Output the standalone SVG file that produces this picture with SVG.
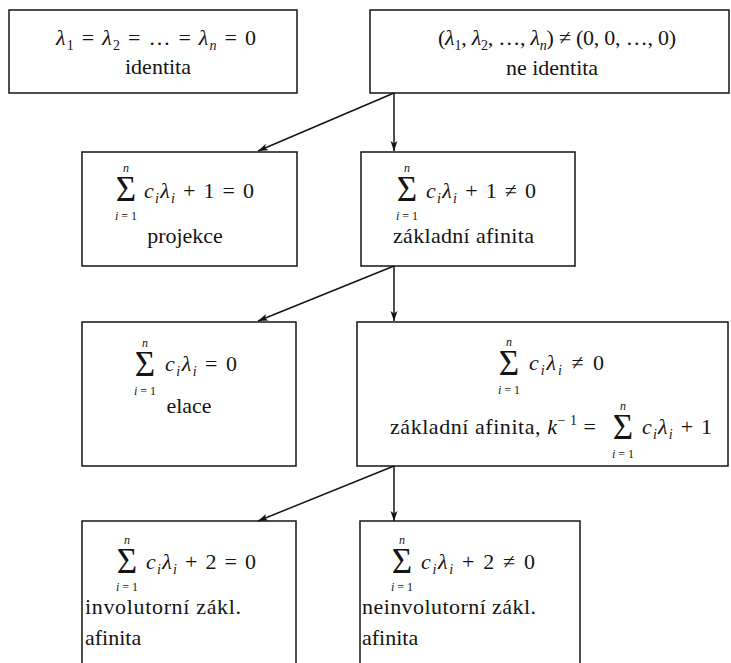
<svg xmlns="http://www.w3.org/2000/svg" width="731" height="663" viewBox="0 0 731 663">
<style>
.b{fill:none;stroke:#141414;stroke-width:1.5}
.c{fill:none;stroke:#141414;stroke-width:1.5}
text{font-family:"Liberation Serif","Times New Roman",serif;font-size:22px;fill:#141414}
.i{font-style:italic}
.s{font-size:14px}
.sg{font-size:35px;text-anchor:middle}
.lim{font-size:12px;text-anchor:middle}
.m{text-anchor:middle}
</style>
<defs>
<marker id="ah" markerUnits="userSpaceOnUse" markerWidth="11" markerHeight="8" refX="10" refY="4" orient="auto">
<path d="M0,0.5 L10,4 L0,7.5 L2.5,4 z" fill="#141414"/>
</marker>
</defs>
<rect width="731" height="663" fill="#fff"/>

<g id="connectors">
<line class="c" x1="394" y1="93" x2="258" y2="151" marker-end="url(#ah)"/>
<line class="c" x1="394" y1="93" x2="394" y2="151" marker-end="url(#ah)"/>
<line class="c" x1="394" y1="266" x2="258" y2="321" marker-end="url(#ah)"/>
<line class="c" x1="394" y1="266" x2="394" y2="321" marker-end="url(#ah)"/>
<line class="c" x1="394" y1="466" x2="258" y2="521" marker-end="url(#ah)"/>
<line class="c" x1="394" y1="466" x2="394" y2="521" marker-end="url(#ah)"/>
</g>

<g id="n1">
<rect class="b" x="9" y="10" width="288" height="83"/>
<text class="m" x="156" y="45" textLength="200"><tspan class="i">λ</tspan><tspan class="s" dy="5">1</tspan><tspan dy="-5"> = </tspan><tspan class="i">λ</tspan><tspan class="s" dy="5">2</tspan><tspan dy="-5"> = … = </tspan><tspan class="i">λ</tspan><tspan class="s i" dy="5">n</tspan><tspan dy="-5"> = 0</tspan></text>
<text class="m" x="158" y="74">identita</text>
</g>

<g id="n2">
<rect class="b" x="370" y="10" width="359" height="83"/>
<text class="m" x="557" y="45" textLength="238">(<tspan class="i">λ</tspan><tspan class="s" dy="5">1</tspan><tspan dy="-5">, </tspan><tspan class="i">λ</tspan><tspan class="s" dy="5">2</tspan><tspan dy="-5">, …, </tspan><tspan class="i">λ</tspan><tspan class="s i" dy="5">n</tspan><tspan dy="-5">) ≠ (0, 0, …, 0)</tspan></text>
<text class="m" x="552" y="75">ne identita</text>
</g>

<g id="n3">
<rect class="b" x="82" y="152" width="215" height="114"/>
<text class="sg" x="126" y="201">Σ</text>
<text class="lim i" x="126" y="172">n</text>
<text class="lim" x="126" y="220"><tspan class="i">i</tspan> = 1</text>
<text x="144" y="198" textLength="110"><tspan class="i">c</tspan><tspan class="s i" dy="5">i</tspan><tspan class="i" dy="-5">λ</tspan><tspan class="s i" dy="5">i</tspan><tspan dy="-5"> + 1 = 0</tspan></text>
<text class="m" x="185" y="243">projekce</text>
</g>

<g id="n4">
<rect class="b" x="361" y="152" width="214" height="114"/>
<text class="sg" x="407" y="201">Σ</text>
<text class="lim i" x="407" y="172">n</text>
<text class="lim" x="407" y="220"><tspan class="i">i</tspan> = 1</text>
<text x="426" y="198" textLength="110"><tspan class="i">c</tspan><tspan class="s i" dy="5">i</tspan><tspan class="i" dy="-5">λ</tspan><tspan class="s i" dy="5">i</tspan><tspan dy="-5"> + 1 ≠ 0</tspan></text>
<text x="393" y="243" textLength="141">základní afinita</text>
</g>

<g id="n5">
<rect class="b" x="82" y="322" width="214" height="144"/>
<text class="sg" x="145" y="376">Σ</text>
<text class="lim i" x="145" y="347">n</text>
<text class="lim" x="145" y="395"><tspan class="i">i</tspan> = 1</text>
<text x="165" y="371" textLength="72"><tspan class="i">c</tspan><tspan class="s i" dy="5">i</tspan><tspan class="i" dy="-5">λ</tspan><tspan class="s i" dy="5">i</tspan><tspan dy="-5"> = 0</tspan></text>
<text class="m" x="189" y="413">elace</text>
</g>

<g id="n6">
<rect class="b" x="357" y="322" width="371" height="144"/>
<text class="sg" x="509" y="375">Σ</text>
<text class="lim i" x="509" y="346">n</text>
<text class="lim" x="509" y="394"><tspan class="i">i</tspan> = 1</text>
<text x="529" y="370" textLength="75"><tspan class="i">c</tspan><tspan class="s i" dy="5">i</tspan><tspan class="i" dy="-5">λ</tspan><tspan class="s i" dy="5">i</tspan><tspan dy="-5"> ≠ 0</tspan></text>
<text x="390" y="434" textLength="206">základní afinita, <tspan class="i">k</tspan><tspan class="s" dy="-9">− 1</tspan><tspan dy="9"> =</tspan></text>
<text class="sg" x="623" y="439">Σ</text>
<text class="lim i" x="623" y="410">n</text>
<text class="lim" x="623" y="458"><tspan class="i">i</tspan> = 1</text>
<text x="642" y="434" textLength="70"><tspan class="i">c</tspan><tspan class="s i" dy="5">i</tspan><tspan class="i" dy="-5">λ</tspan><tspan class="s i" dy="5">i</tspan><tspan dy="-5"> + 1</tspan></text>
</g>

<g id="n7">
<path class="b" d="M82,670 V521 H296 V670"/>
<text class="sg" x="127" y="573">Σ</text>
<text class="lim i" x="127" y="544">n</text>
<text class="lim" x="127" y="591"><tspan class="i">i</tspan> = 1</text>
<text x="146" y="569" textLength="110"><tspan class="i">c</tspan><tspan class="s i" dy="5">i</tspan><tspan class="i" dy="-5">λ</tspan><tspan class="s i" dy="5">i</tspan><tspan dy="-5"> + 2 = 0</tspan></text>
<text x="85" y="614" textLength="156">involutorní zákl.</text>
<text x="85" y="645">afinita</text>
</g>

<g id="n8">
<path class="b" d="M360,670 V521 H580 V670"/>
<text class="sg" x="402" y="573">Σ</text>
<text class="lim i" x="402" y="544">n</text>
<text class="lim" x="402" y="591"><tspan class="i">i</tspan> = 1</text>
<text x="421" y="569" textLength="114"><tspan class="i">c</tspan><tspan class="s i" dy="5">i</tspan><tspan class="i" dy="-5">λ</tspan><tspan class="s i" dy="5">i</tspan><tspan dy="-5"> + 2 ≠ 0</tspan></text>
<text x="362" y="614" textLength="174">neinvolutorní zákl.</text>
<text x="362" y="645">afinita</text>
</g>
</svg>
